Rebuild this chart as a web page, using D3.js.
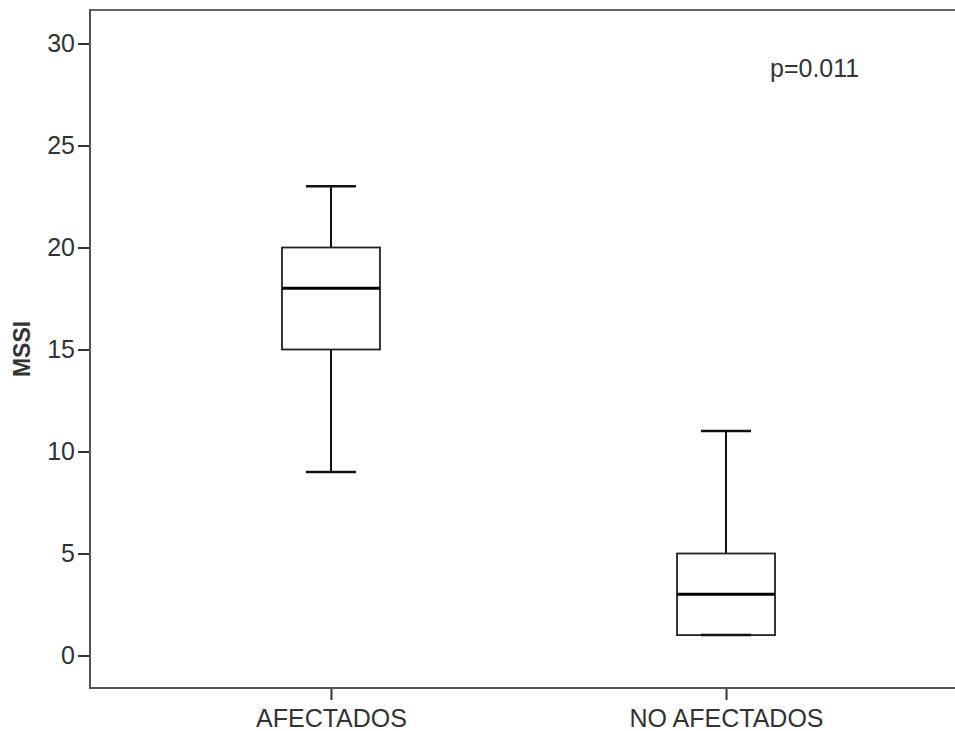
<!DOCTYPE html>
<html>
<head>
<meta charset="utf-8">
<script src="https://cdn.jsdelivr.net/npm/d3@7"></script>
<style>
  body { margin: 0; background: #fff; }
  text { font-family: "Liberation Sans", Arial, sans-serif; fill: #333; }
</style>
</head>
<body>
<div id="chart"></div>
<script>
// data
const groups = ["AFECTADOS", "NO AFECTADOS"];
const whiskerLow = [9, 1];
const q1 = [15, 1];
const median = [18, 3];
const q3 = [20, 5];
const whiskerHigh = [23, 11];
const yTicks = [0, 5, 10, 15, 20, 25, 30];
const pLabel = "p=0.011";

var canvas_width = 955,
  canvas_height = 731;

var frame = { top: 10, left: 90, bottom: 688, right: 967 };

var svg = d3.select("#chart")
  .append("svg")
  .attr("width", canvas_width)
  .attr("height", canvas_height);

var y = d3.scaleLinear().domain([0, 30]).range([655.5, 43.5]);
var x = d3.scalePoint().domain(groups).range([frame.left, frame.right]).padding(0.61);

// frame: top border
svg.append("line")
  .attr("x1", frame.left).attr("x2", frame.right)
  .attr("y1", frame.top).attr("y2", frame.top)
  .attr("stroke", "#666").attr("stroke-width", 2);

// y axis
var yAxis = d3.axisLeft(y).tickValues(yTicks).tickSize(12).tickSizeOuter(0).tickPadding(3);
var gy = svg.append("g")
  .attr("transform", `translate(${frame.left},0)`)
  .call(yAxis);
gy.select(".domain").remove();
gy.append("line")
  .attr("x1", 0).attr("x2", 0)
  .attr("y1", frame.top - 1).attr("y2", frame.bottom)
  .attr("stroke", "#555").attr("stroke-width", 2);
gy.selectAll(".tick line").attr("stroke", "#333").attr("stroke-width", 2);
gy.selectAll(".tick text")
  .attr("font-size", 25)
  .attr("fill", "#333")
  .style("font-family", "'Liberation Sans', Arial, sans-serif");

// x axis
var xAxis = d3.axisBottom(x).tickSize(12).tickSizeOuter(0).tickPadding(9);
var gx = svg.append("g")
  .attr("transform", `translate(0,${frame.bottom})`)
  .call(xAxis);
gx.select(".domain").remove();
gx.append("line")
  .attr("x1", frame.left - 1).attr("x2", frame.right)
  .attr("y1", 0).attr("y2", 0)
  .attr("stroke", "#555").attr("stroke-width", 2);
gx.selectAll(".tick line").attr("stroke", "#333").attr("stroke-width", 2);
gx.selectAll(".tick text")
  .attr("font-size", 25)
  .attr("fill", "#333")
  .style("font-family", "'Liberation Sans', Arial, sans-serif");

// y axis title
svg.append("text")
  .attr("transform", `translate(30,${(frame.top + frame.bottom) / 2}) rotate(-90)`)
  .attr("text-anchor", "middle")
  .attr("font-size", 23)
  .attr("font-weight", "bold")
  .attr("fill", "#111")
  .text("MSSI");

// boxes
const boxW = 98, capW = 50;
var boxes = svg.append("g").selectAll("g")
  .data(groups)
  .join("g");

boxes.append("line") // upper whisker
  .attr("x1", d => x(d)).attr("x2", d => x(d))
  .attr("y1", (d, i) => y(whiskerHigh[i])).attr("y2", (d, i) => y(q3[i]))
  .attr("stroke", "#111").attr("stroke-width", 2);
boxes.append("line") // lower whisker
  .attr("x1", d => x(d)).attr("x2", d => x(d))
  .attr("y1", (d, i) => y(whiskerLow[i])).attr("y2", (d, i) => y(q1[i]))
  .attr("stroke", "#111").attr("stroke-width", 2);
boxes.append("line") // upper cap
  .attr("x1", d => x(d) - capW / 2).attr("x2", d => x(d) + capW / 2)
  .attr("y1", (d, i) => y(whiskerHigh[i])).attr("y2", (d, i) => y(whiskerHigh[i]))
  .attr("stroke", "#111").attr("stroke-width", 2.5);
boxes.append("rect")
  .attr("x", d => x(d) - boxW / 2)
  .attr("width", boxW)
  .attr("y", (d, i) => y(q3[i]))
  .attr("height", (d, i) => y(q1[i]) - y(q3[i]))
  .attr("fill", "#fff")
  .attr("stroke", "#222").attr("stroke-width", 1.8);
boxes.append("line") // lower cap
  .attr("x1", d => x(d) - capW / 2).attr("x2", d => x(d) + capW / 2)
  .attr("y1", (d, i) => y(whiskerLow[i])).attr("y2", (d, i) => y(whiskerLow[i]))
  .attr("stroke", "#111").attr("stroke-width", 2.5);
boxes.append("line") // median
  .attr("x1", d => x(d) - boxW / 2).attr("x2", d => x(d) + boxW / 2)
  .attr("y1", (d, i) => y(median[i])).attr("y2", (d, i) => y(median[i]))
  .attr("stroke", "#000").attr("stroke-width", 3);

// p value note
svg.append("text")
  .attr("x", 770)
  .attr("y", 77)
  .attr("font-size", 25)
  .text(pLabel);
</script>
</body>
</html>
